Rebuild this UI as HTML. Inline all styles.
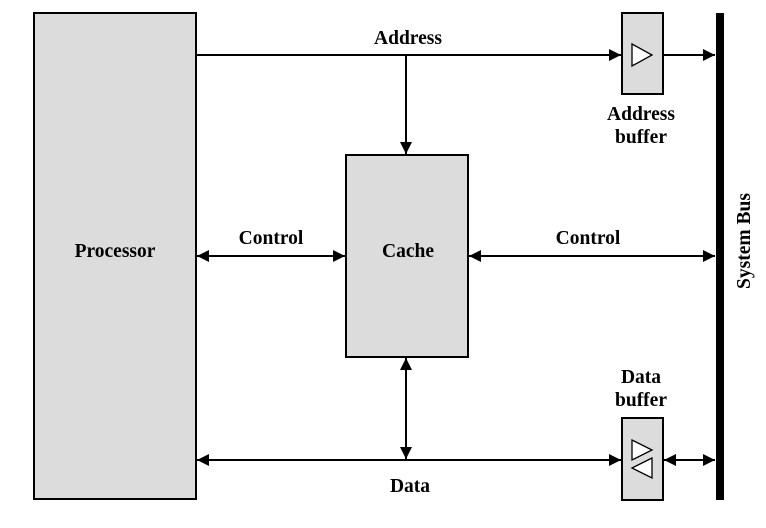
<!DOCTYPE html>
<html><head><style>body{margin:0;background:#fff}</style></head><body>
<svg width="766" height="523" xmlns="http://www.w3.org/2000/svg" font-family="Liberation Serif, serif" font-weight="bold" font-size="19.5">
<defs>
<marker id="a" markerWidth="12" markerHeight="12" refX="12" refY="6" orient="auto-start-reverse" markerUnits="userSpaceOnUse"><path d="M0,0L12,6L0,12z" fill="#000"/></marker>
</defs>
<rect x="34" y="13" width="162" height="486" fill="#dcdcdc" stroke="#000" stroke-width="2"/>
<rect x="346" y="155" width="122" height="202" fill="#dcdcdc" stroke="#000" stroke-width="2"/>
<rect x="622" y="13" width="41" height="81" fill="#dcdcdc" stroke="#000" stroke-width="2"/>
<rect x="622" y="418" width="41" height="82" fill="#dcdcdc" stroke="#000" stroke-width="2"/>
<rect x="716" y="13" width="8" height="487" fill="#000"/>
<path d="M632,44L652,55L632,66z" fill="#fff" stroke="#000" stroke-width="1.3"/>
<path d="M632,440L652,450L632,460z" fill="#fff" stroke="#000" stroke-width="1.3"/>
<path d="M652,458L632,468L652,478z" fill="#fff" stroke="#000" stroke-width="1.3"/>
<g stroke="#000" stroke-width="2" fill="none">
<line x1="196" y1="55" x2="621" y2="55" marker-end="url(#a)"/>
<line x1="663" y1="55" x2="715" y2="55" marker-end="url(#a)"/>
<line x1="406" y1="55" x2="406" y2="154" marker-end="url(#a)"/>
<line x1="197" y1="256" x2="345" y2="256" marker-start="url(#a)" marker-end="url(#a)"/>
<line x1="469" y1="256" x2="715" y2="256" marker-start="url(#a)" marker-end="url(#a)"/>
<line x1="406" y1="358" x2="406" y2="459" marker-start="url(#a)" marker-end="url(#a)"/>
<line x1="197" y1="460" x2="621" y2="460" marker-start="url(#a)" marker-end="url(#a)"/>
<line x1="664" y1="460" x2="715" y2="460" marker-start="url(#a)" marker-end="url(#a)"/>
</g>
<text x="408" y="44" text-anchor="middle">Address</text>
<text x="641" y="120" text-anchor="middle">Address</text>
<text x="641" y="143" text-anchor="middle">buffer</text>
<text x="115" y="257" text-anchor="middle">Processor</text>
<text x="408" y="257" text-anchor="middle">Cache</text>
<text x="271" y="244" text-anchor="middle">Control</text>
<text x="588" y="244" text-anchor="middle">Control</text>
<text x="641" y="383" text-anchor="middle">Data</text>
<text x="641" y="406" text-anchor="middle">buffer</text>
<text x="410" y="492" text-anchor="middle">Data</text>
<text transform="translate(750,241) rotate(-90)" text-anchor="middle">System Bus</text>
</svg>
</body></html>
